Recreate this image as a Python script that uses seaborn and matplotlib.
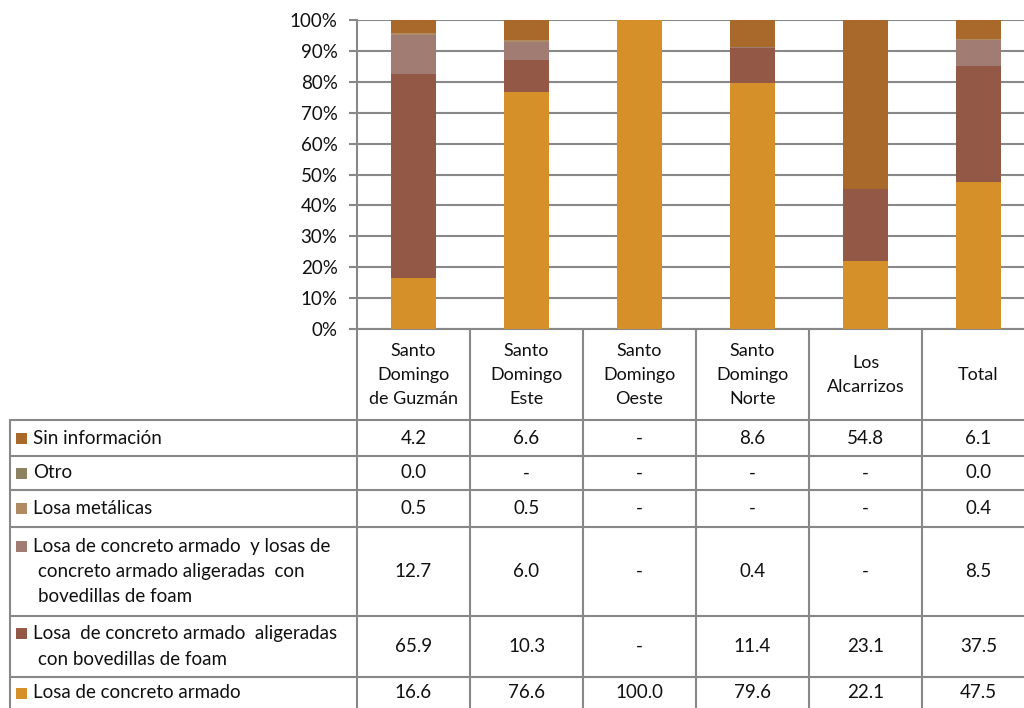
import matplotlib
matplotlib.use("Agg")
import matplotlib.pyplot as plt
import numpy as np
import pandas as pd
import seaborn as sns

# data (percent); None = "-" in the table
categories = ["Santo\nDomingo\nde Guzmán", "Santo\nDomingo\nEste", "Santo\nDomingo\nOeste",
              "Santo\nDomingo\nNorte", "Los\nAlcarrizos", "Total"]
series = ["Losa de concreto armado",
          "Losa  de concreto armado  aligeradas\ncon bovedillas de foam",
          "Losa de concreto armado  y losas de\nconcreto armado aligeradas  con\nbovedillas de foam",
          "Losa metálicas",
          "Otro",
          "Sin información"]
losa_concreto = [16.6, 76.6, 100.0, 79.6, 22.1, 47.5]
losa_aligerada = [65.9, 10.3, None, 11.4, 23.1, 37.5]
losa_mixta = [12.7, 6.0, None, 0.4, None, 8.5]
losa_metalica = [0.5, 0.5, None, None, None, 0.4]
otro = [0.0, None, None, None, None, 0.0]
sin_info = [4.2, 6.6, None, 8.6, 54.8, 6.1]
values = [losa_concreto, losa_aligerada, losa_mixta, losa_metalica, otro, sin_info]
colors = ["#D69029", "#945846", "#A07C72", "#B08A62", "#8C8262", "#A8692A"]

sns.set_theme(style="white")
plt.rcParams["font.family"] = ["Lato", "DejaVu Sans"]

W, H = 1024, 708
fig = plt.figure(figsize=(W / 100, H / 100), dpi=100)

x0, col_w = 357, 113
y_top, y_bot = 20, 329
ax = fig.add_axes([x0 / W, 1 - y_bot / H, 6 * col_w / W, (y_bot - y_top) / H])

df = pd.DataFrame(values, index=series, columns=categories).astype(float).fillna(0)
cum = df.cumsum()
for i in range(len(series) - 1, -1, -1):
    sns.barplot(x=list(range(6)), y=cum.iloc[i].values, color=colors[i], width=0.4,
                saturation=1, ax=ax, native_scale=True, zorder=3, edgecolor="none")

grid_c = "#888888"
ax.set_xlim(-0.5, 5.5)
ax.set_ylim(0, 100)
ax.set_yticks(np.arange(0, 101, 10))
ax.set_yticklabels([f"{v}%" for v in range(0, 101, 10)], fontsize=13.5, color="#111111")
ax.set_xticks([])
ax.grid(axis="y", color=grid_c, linewidth=1.5, zorder=0)
ax.tick_params(axis="y", length=6, width=1.5, color=grid_c, pad=8, left=True)
for s in ["top", "right"]:
    ax.spines[s].set_visible(False)
for s in ["left", "bottom"]:
    ax.spines[s].set_color(grid_c)
    ax.spines[s].set_linewidth(1.5)
ax.set_xlabel("")
ax.set_ylabel("")

# data table under the chart, drawn in pixel coordinates
tab = fig.add_axes([0, 0, 1, 1])
tab.set_xlim(0, W)
tab.set_ylim(H, 0)
tab.axis("off")

row_edges = [420, 456, 490, 527, 616, 677, 720]
lw = 1.5
for y in row_edges[:-1]:
    tab.plot([10, W], [y, y], color=grid_c, lw=lw)
tab.plot([10, 10], [420, H], color=grid_c, lw=lw)
for j in range(7):
    xx = x0 + j * col_w
    tab.plot([xx, xx], [y_bot, H], color=grid_c, lw=lw)

fs = 13.5
for j, cat in enumerate(categories):
    tab.text(x0 + (j + 0.5) * col_w, 375, cat, ha="center", va="center",
             fontsize=13, linespacing=1.6, color="#111111")

# rows from top: reversed series order
for r, i in enumerate(range(len(series) - 1, -1, -1)):
    ya, yb = row_edges[r], row_edges[r + 1]
    yc = (ya + yb) / 2 if r < 5 else 693
    lines = series[i].split("\n")
    n = len(lines)
    y_first = yc - (n - 1) * 12.7
    tab.add_patch(plt.Rectangle((16, y_first - 5.5), 11, 11, color=colors[i], lw=0))
    for k, line in enumerate(lines):
        tab.text(33 + (5 if k > 0 else 0), y_first + k * 25.4, line, ha="left", va="center",
                 fontsize=fs, color="#111111")
    for j in range(6):
        v = values[i][j]
        txt = "-" if v is None else f"{v:.1f}"
        tab.text(x0 + (j + 0.5) * col_w, yc, txt, ha="center", va="center",
                 fontsize=fs, color="#111111")

fig.savefig("out.png", dpi=100)
